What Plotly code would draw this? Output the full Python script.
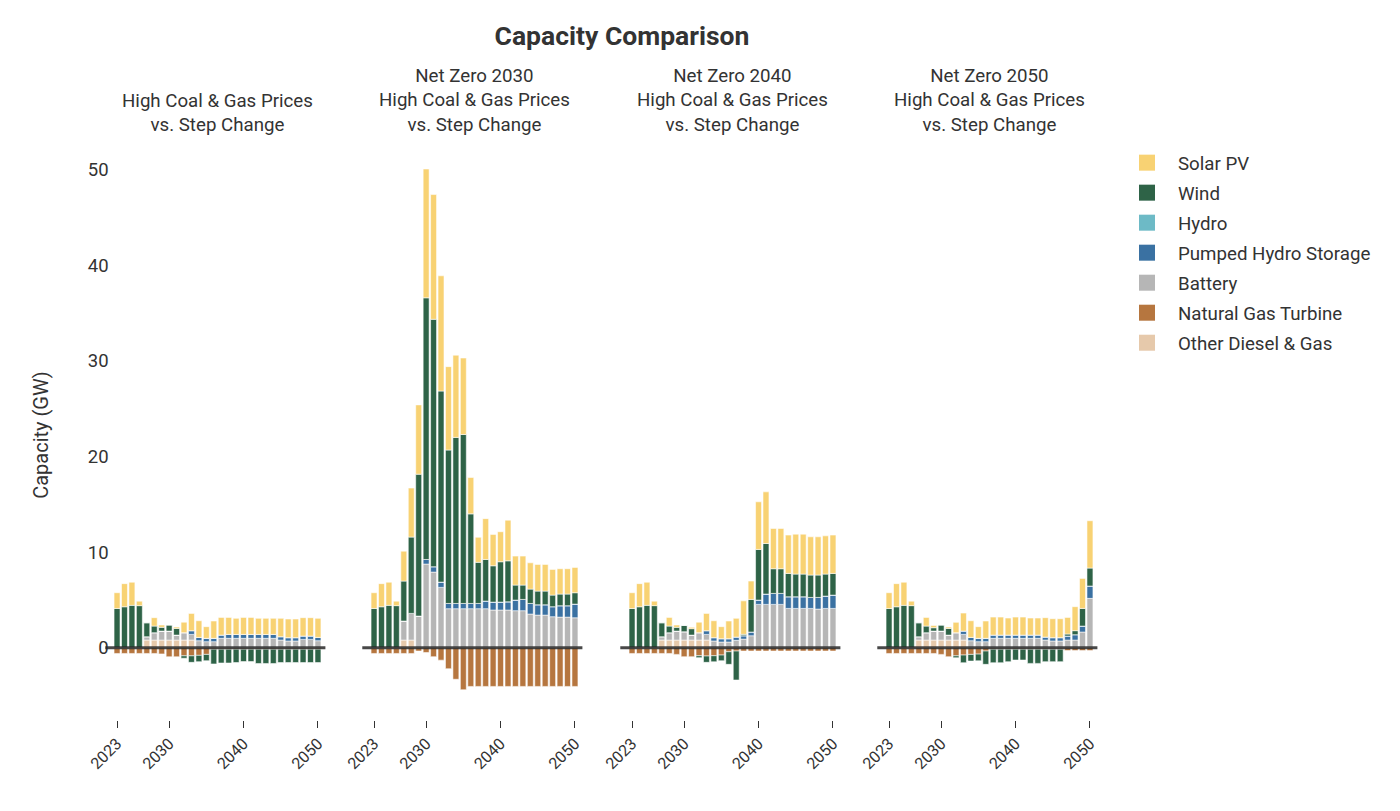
import plotly.graph_objects as go
from plotly.subplots import make_subplots

years = list(range(2023, 2051))
tick_years = [2023, 2030, 2040, 2050]
y_ticks = [0, 10, 20, 30, 40, 50]

panel_titles = [
    "High Coal & Gas Prices<br>vs. Step Change",
    "Net Zero 2030<br>High Coal & Gas Prices<br>vs. Step Change",
    "Net Zero 2040<br>High Coal & Gas Prices<br>vs. Step Change",
    "Net Zero 2050<br>High Coal & Gas Prices<br>vs. Step Change",
]

# Legend order (top to bottom) and colours
tech_names = ["Solar PV", "Wind", "Hydro", "Pumped Hydro Storage", "Battery",
              "Natural Gas Turbine", "Other Diesel & Gas"]
tech_colors = ["#F8D273", "#2E6347", "#6DBAC6", "#3A71A2", "#B6B6B6",
               "#B6763F", "#E6C9AB"]

# ---------------- Panel 1: High Coal & Gas Prices vs Step Change
hc_other = [0, 0, 0, 0, 0.8, 0.8, 0.8, 0.8, 0.8, 0.8, 0.8] + [0] * 17
hc_ngt = [-0.6] * 6 + [-0.65] + [-0.95, -0.95, -0.85, -0.85, -0.8, -0.7] + [-0.15] * 15
hc_battery = [0, 0, 0, 0, 0.35, 0.77, 0.94, 0.94, 0.52, 0.77,
              0.59, 0.73, 0.63, 0.63, 0.98, 0.98, 0.98, 0.98, 0.98, 0.98,
              0.98, 0.98, 0.8, 0.7, 0.7, 0.87, 0.87, 0.73]
hc_phs = [0] * 10 + [0.39, 0.35, 0.35, 0.35, 0.34, 0.41, 0.41, 0.41, 0.41, 0.41,
                     0.41, 0.41, 0.35, 0.35, 0.35, 0.35, 0.35, 0.35]
hc_hydro = [0] * 28
hc_wind = [4.1, 4.28, 4.43, 4.4, 1.46, 0.69, 0.39, 0.63, 0.7, -0.25,
           -0.68, -0.66, -0.66, -1.55, -1.45, -1.45, -1.4, -1.3, -1.3, -1.5,
           -1.5, -1.5, -1.4, -1.4, -1.4, -1.4, -1.4, -1.4]
hc_solar = [1.65, 2.42, 2.42, 0.47, 0, 0.88, 0.24, 0, 0.14, 1.1,
            1.81, 1.74, 1.22, 1.81, 1.85, 1.78, 1.68, 1.78, 1.78, 1.68,
            1.68, 1.68, 1.92, 1.95, 1.95, 1.92, 1.92, 1.99]

# ---------------- Panel 2: Net Zero 2030
nz30_other = [0, 0, 0, 0, 0.8, 0.8] + [0] * 22
nz30_ngt = [-0.6] * 6 + [-0.35, -0.5, -0.94, -1.3, -2.2, -3.3, -4.4] + [-4.05] * 15
nz30_battery = [0, 0, 0, 0, 1.99, 2.79, 3.31, 8.75, 7.91, 6.31,
                4.08, 4.08, 4.08, 4.08, 4.08, 4.08, 3.94, 3.94, 3.94, 3.87,
                3.87, 3.52, 3.41, 3.41, 3.24, 3.2, 3.2, 3.13]
nz30_phs = [0, 0, 0, 0, 0, 0, 0, 0.48, 0.56, 0.55,
            0.55, 0.55, 0.55, 0.55, 0.55, 0.8, 0.83, 0.83, 0.86, 1.11,
            1.18, 1.11, 1.08, 1.08, 1.05, 1.19, 1.19, 1.43]
nz30_hydro = [0] * 28
nz30_wind = [4.1, 4.28, 4.43, 4.4, 4.18, 7.98, 14.84, 27.37, 25.88, 19.99,
             16.05, 17.37, 17.67, 9.37, 4.3, 4.35, 3.8, 4.22, 4.29, 1.57,
             1.5, 1.5, 1.43, 1.43, 1.21, 1.22, 1.22, 1.19]
nz30_solar = [1.65, 2.42, 2.42, 0.47, 3.13, 5.13, 7.25, 13.47, 13.05, 12.05,
              8.72, 8.6, 8.0, 3.8, 2.62, 4.27, 3.28, 3.14, 4.25, 3.03,
              3.03, 2.75, 2.79, 2.79, 2.69, 2.65, 2.65, 2.65]

# ---------------- Panel 3: Net Zero 2040
nz40_other = [0, 0, 0, 0, 0.8, 0.8, 0.8, 0.8, 0.8, 0.8, 0.8] + [0] * 17
nz40_ngt = [-0.6] * 6 + [-0.7, -0.94, -0.94, -0.84, -0.87, -0.84, -0.77, -0.42, -0.35] + [-0.35] * 13
nz40_battery = [0, 0, 0, 0, 0.35, 0.77, 0.94, 0.87, 0.52, 0.77,
                0.59, 0.7, 0.59, 0.59, 0.77, 0.9, 1.25, 4.53, 4.53, 4.53,
                4.53, 4.11, 4.11, 4.11, 4.11, 4.04, 4.11, 4.11]
nz40_phs = [0] * 10 + [0.39, 0.35, 0.35, 0.35, 0.34, 0.35, 0.39, 0.45, 1.08, 1.15,
                       1.15, 1.22, 1.22, 1.22, 1.15, 1.22, 1.29, 1.39]
nz40_hydro = [0] * 28
nz40_wind = [4.1, 4.28, 4.43, 4.4, 1.46, 0.69, 0.39, 0.66, 0.67, -0.2,
             -0.66, -0.63, -0.59, -1.32, -3.03, 0.15, 3.41, 5.3, 5.29, 2.58,
             2.58, 2.44, 2.37, 2.37, 2.34, 2.34, 2.3, 2.27]
nz40_solar = [1.65, 2.42, 2.42, 0.47, 0, 0.91, 0.24, 0, 0.14, 1.1,
              1.81, 1.77, 1.26, 1.85, 1.96, 3.5, 1.92, 4.98, 5.4, 4.21,
              4.21, 4.01, 4.18, 4.18, 4.0, 4.0, 4.0, 4.01]

# ---------------- Panel 4: Net Zero 2050
nz50_other = [0, 0, 0, 0, 0.8, 0.8, 0.8, 0.8, 0.8, 0.8, 0.8] + [0] * 17
nz50_ngt = [-0.6] * 7 + [-0.7, -0.94, -0.85, -0.77, -0.7, -0.67, -0.35] + [-0.15] * 10 + [-0.3] * 4
nz50_battery = [0, 0, 0, 0, 0.35, 0.77, 0.94, 0.94, 0.52, 0.77,
                0.59, 0.73, 0.63, 0.63, 0.98, 0.98, 0.98, 0.98, 0.98, 0.98,
                0.98, 0.8, 0.7, 0.7, 0.8, 0.8, 1.64, 5.16]
nz50_phs = [0] * 10 + [0.35, 0.35, 0.35, 0.35, 0.34, 0.34, 0.34, 0.34, 0.34, 0.34,
                       0.34, 0.31, 0.35, 0.35, 0.42, 0.56, 0.62, 1.29]
nz50_hydro = [0] * 28
nz50_wind = [4.1, 4.28, 4.43, 4.4, 1.46, 0.69, 0.35, 0.63, 0.7, -0.2,
             -0.8, -0.7, -0.7, -1.39, -1.42, -1.42, -1.31, -1.14, -1.14, -1.49,
             -1.49, -1.31, -1.31, -1.31, 0.21, 0.42, 1.85, 1.88]
nz50_solar = [1.65, 2.42, 2.42, 0.47, 0, 0.91, 0.24, 0, 0.14, 1.08,
              1.88, 1.74, 1.22, 1.81, 1.88, 1.88, 1.78, 1.88, 1.88, 1.78,
              1.78, 2.03, 1.98, 1.98, 1.74, 2.51, 3.14, 4.95]

panels = [
    [hc_solar, hc_wind, hc_hydro, hc_phs, hc_battery, hc_ngt, hc_other],
    [nz30_solar, nz30_wind, nz30_hydro, nz30_phs, nz30_battery, nz30_ngt, nz30_other],
    [nz40_solar, nz40_wind, nz40_hydro, nz40_phs, nz40_battery, nz40_ngt, nz40_other],
    [nz50_solar, nz50_wind, nz50_hydro, nz50_phs, nz50_battery, nz50_ngt, nz50_other],
]

FONT = "Roboto"
TXT = "#333333"

fig = make_subplots(rows=1, cols=4, shared_yaxes=True)

# stacking order: bottom-most first (reverse of legend order)
stack_idx = list(range(len(tech_names)))[::-1]
for col, series in enumerate(panels, start=1):
    for i in stack_idx:
        fig.add_trace(go.Bar(
            x=years, y=series[i], name=tech_names[i],
            marker=dict(color=tech_colors[i],
                        line=dict(color="rgba(255,255,255,0.55)", width=1)),
            showlegend=False,
            hovertemplate="%{x}: %{y:.2f} GW<extra>" + tech_names[i] + "</extra>",
        ), row=1, col=col)

# legend entries
for name, color in zip(tech_names, tech_colors):
    fig.add_trace(go.Scatter(
        x=[None], y=[None], mode="markers", name=name, legendgroup=name,
        marker=dict(symbol="square", size=16, color=color),
        showlegend=True, hoverinfo="skip"), row=1, col=1)

W, H = 1400, 811
OFF = 8  # page body offset
ML, MR = 72, 58
MT = 150 - OFF
MB = H - (720 - OFF)
PW = W - ML - MR
PH = H - MT - MB

def px_to_paper_x(px):
    return (px - OFF - ML) / PW

domains_px = [(109.6, 325.4), (366.6, 582.4), (624.6, 840.4), (881.6, 1097.4)]

layout_axes = {}
for k, (a, b) in enumerate(domains_px):
    key = "xaxis" if k == 0 else f"xaxis{k + 1}"
    layout_axes[key] = dict(
        domain=[px_to_paper_x(a), px_to_paper_x(b)],
        range=[2022, 2051],
        tickmode="array", tickvals=tick_years, ticktext=[str(t) for t in tick_years],
        tickangle=-45, ticks="outside", ticklen=7, tickwidth=1, tickcolor=TXT,
        showline=False, showgrid=False, zeroline=False,
        tickfont=dict(family=FONT, size=16, color=TXT),
    )
fig.update_layout(**layout_axes)

y0_px = 647.7
per_unit = 9.56
y_top = (y0_px - 150) / per_unit
y_bot = (y0_px - 720) / per_unit
fig.update_yaxes(range=[y_bot, y_top], tickmode="array", tickvals=y_ticks,
                 showgrid=False, zeroline=False, showline=False, ticks="",
                 tickfont=dict(family=FONT, size=18.5, color=TXT))
fig.update_yaxes(title=dict(text="Capacity (GW)", font=dict(family=FONT, size=20, color=TXT),
                            standoff=33), row=1, col=1)

# zero lines over bars
for k in range(4):
    xr = "x" if k == 0 else f"x{k + 1}"
    fig.add_shape(type="line", xref=f"{xr} domain", x0=-0.02, x1=1.0,
                  yref="y", y0=0, y1=0,
                  line=dict(color="rgba(40,40,40,0.85)", width=3), layer="above")

# panel titles
for k, (a, b) in enumerate(domains_px):
    fig.add_annotation(text=panel_titles[k], xref="paper", yref="paper",
                       x=px_to_paper_x((a + b) / 2), y=1, yanchor="bottom",
                       xanchor="center", yshift=12, showarrow=False,
                       font=dict(family=FONT, size=18.7, color=TXT), align="center")

fig.update_layout(
    width=W, height=H,
    margin=dict(l=ML, r=MR, t=MT, b=MB),
    barmode="relative", bargap=0.2,
    plot_bgcolor="white", paper_bgcolor="white",
    font=dict(family=FONT, color=TXT),
    title=dict(text="<b>Capacity Comparison</b>", x=px_to_paper_x(622), xref="paper",
               xanchor="center", y=1 - (36 - OFF) / H, yref="container", yanchor="middle",
               font=dict(family=FONT, size=26.5, color=TXT)),
    legend=dict(x=px_to_paper_x(1116), y=1.0 + 6 / PH, xanchor="left", yanchor="top",
                traceorder="grouped", tracegroupgap=2.7, itemwidth=52,
                font=dict(family=FONT, size=18.7, color=TXT), bgcolor="rgba(0,0,0,0)"),
)

fig.write_html("out.html")
